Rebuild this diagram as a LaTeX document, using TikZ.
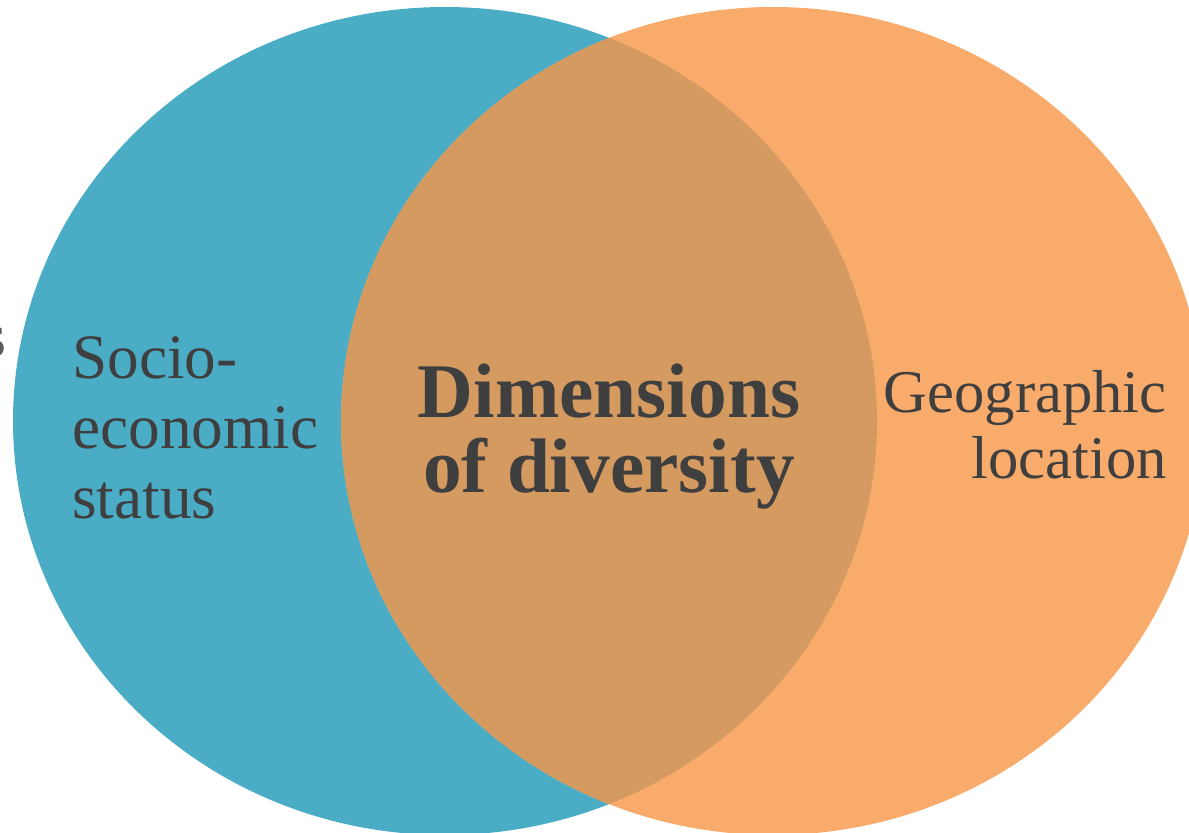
\documentclass[tikz,border=0pt]{standalone}
\usepackage{fontspec}
\setmainfont{Liberation Serif}
\definecolor{vennblue}{HTML}{4BACC6}
\definecolor{vennorange}{HTML}{F8AB6A}
\definecolor{vennmix}{HTML}{D49A60}
\definecolor{textgray}{HTML}{3F3F3F}

\begin{document}
\begin{tikzpicture}[x=0.02cm,y=-0.02cm,
    sidetext/.style={inner sep=0pt,text=textgray},
    centertext/.style={inner sep=0pt,text=textgray,align=center,
      font=\fontsize{44}{43}\selectfont\bfseries}]
  \useasboundingbox (0,0) rectangle (1189,832);
  % the two sets
  \fill[vennblue] (445,421) ellipse [x radius=432, y radius=414];
  \fill[vennorange] (773,421) ellipse [x radius=432, y radius=414];
  \begin{scope}
    \clip (445,421) ellipse [x radius=432, y radius=414];
    \fill[vennmix] (773,421) ellipse [x radius=432, y radius=414];
  \end{scope}
  % labels
  \node[sidetext,anchor=base east,text=textgray!85,font=\fontsize{35}{40}\selectfont] (cut) at (7,356) {s};
  \node[sidetext,anchor=north west,align=left,font=\fontsize{36}{40}\selectfont] (socio) at (72,336)
    {Socio-\\economic\\status};
  \node[centertext,anchor=north] (dims) at (609,363) {Dimensions\\of diversity};
  \node[sidetext,anchor=north east,align=right,font=\fontsize{34.5}{37.6}\selectfont] (geo) at (1167,370)
    {Geographic\\location};
\end{tikzpicture}
\end{document}
